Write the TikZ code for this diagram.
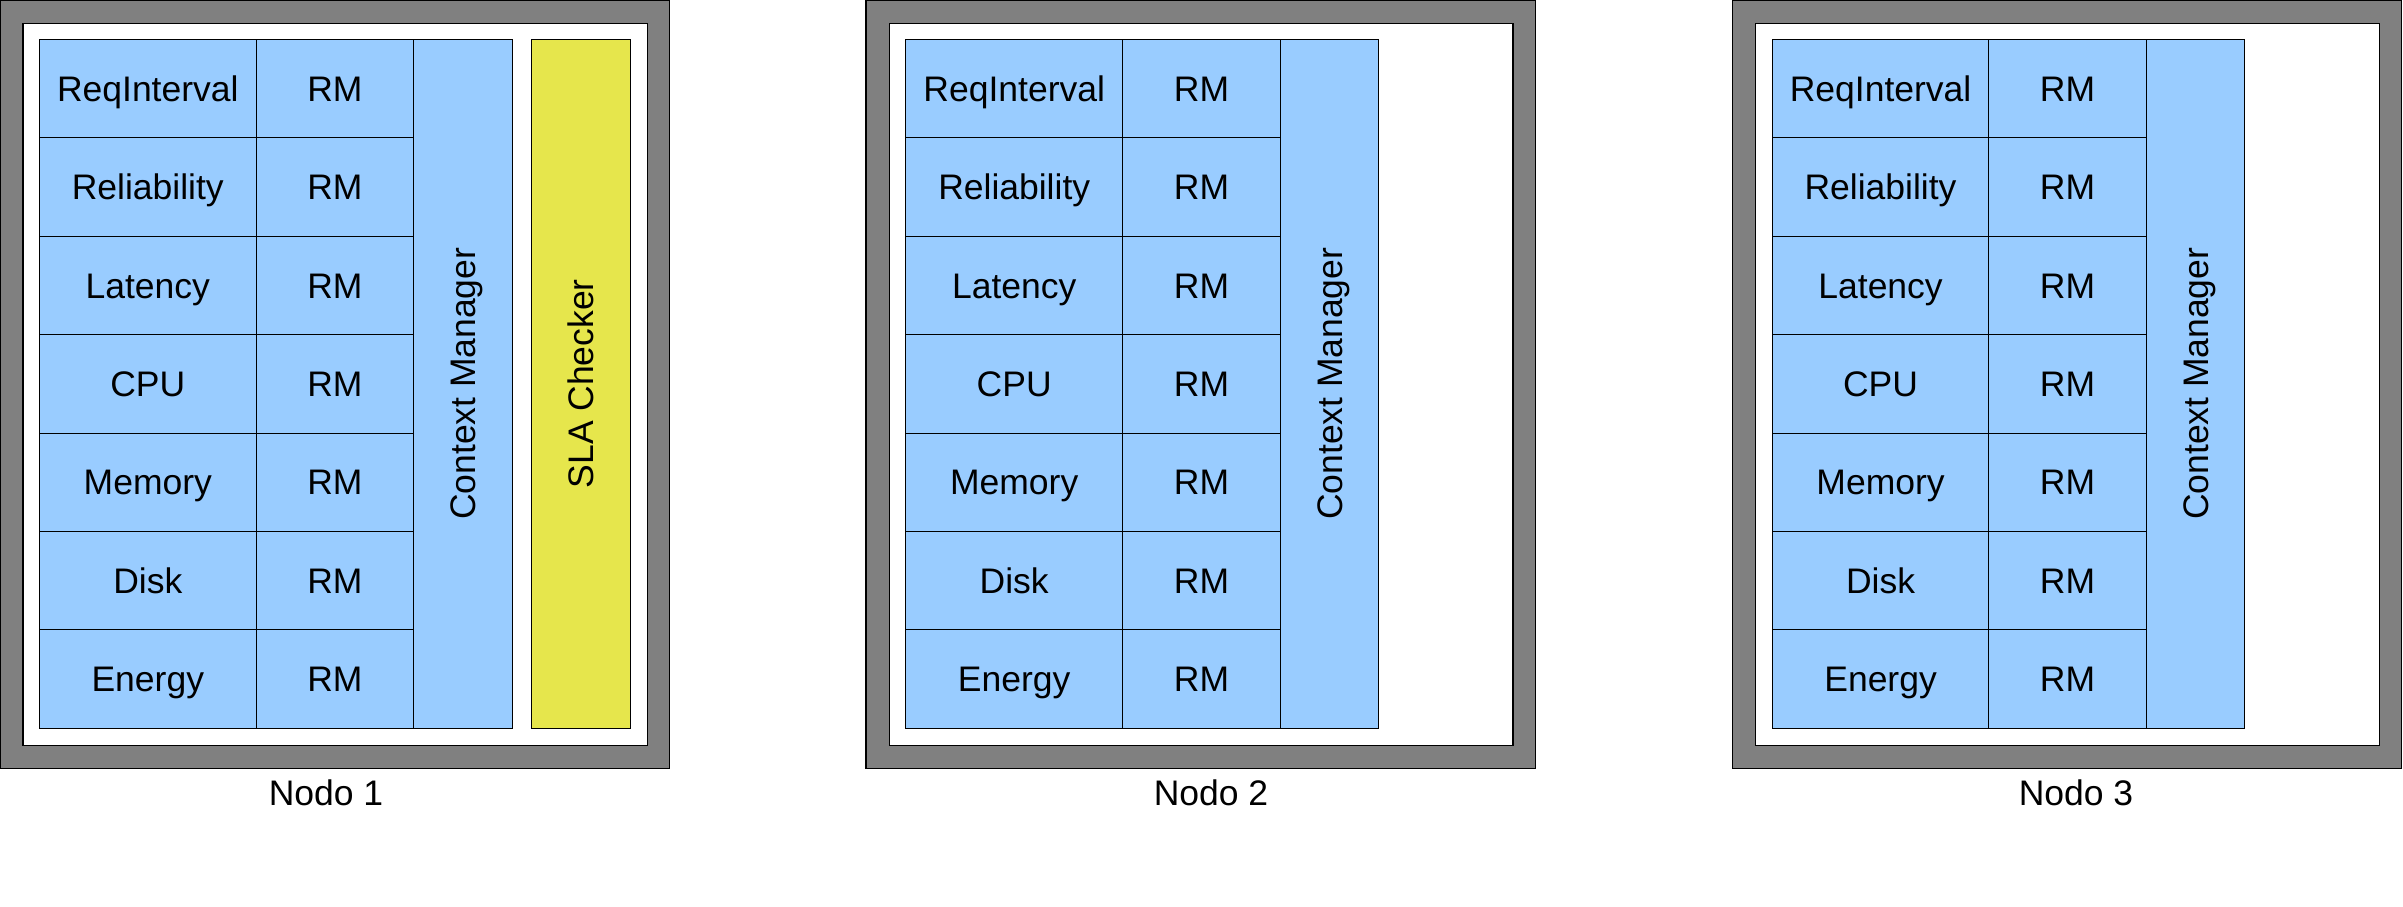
\documentclass[tikz,border=0pt]{standalone}
\usepackage{fontspec}
\setmainfont{Liberation Sans}
\definecolor{cellblue}{HTML}{99CCFF}
\definecolor{slayellow}{HTML}{E6E64C}
\definecolor{framegray}{HTML}{808080}
\tikzset{
  txt/.style={font=\fontsize{35.5}{40}\selectfont, inner sep=0pt, text height=25.4pt, text depth=0pt, anchor=center},
  cell/.style={txt, draw=black, line width=1pt, fill=cellblue},
  sla/.style={txt, draw=black, line width=1pt, fill=slayellow},
  frame/.style={draw=black, line width=1.5pt, fill=framegray},
  inner/.style={draw=black, line width=1.5pt, fill=white},
}
\begin{document}
\begin{tikzpicture}[x=1pt,y=-1pt]
\useasboundingbox (0,0) rectangle (2403,907);
\foreach \b/\ox/\oxr/\ix/\ixr/\ta/\tb/\tc/\td/\lx in {
  1/0.7/669.6/23.2/647.3/39.3/256.3/413.4/512.5/326,
  2/866.2/1535.4/889.4/1513.2/905.9/1122.5/1280.6/1378.3/1211,
  3/1732.6/2401.5/1755.6/2379.4/1772.7/1988.4/2146.6/2244.3/2076}{
  \draw[frame] (\ox,0.7) rectangle (\oxr,768.3);
  \draw[inner] (\ix,23.3) rectangle (\ixr,745.3);
  \pgfmathsetmacro{\wa}{\tb-\ta}
  \pgfmathsetmacro{\wb}{\tc-\tb}
  \pgfmathsetmacro{\wc}{\td-\tc}
  \pgfmathsetmacro{\xa}{(\ta+\tb)/2}
  \pgfmathsetmacro{\xb}{(\tb+\tc)/2}
  \pgfmathsetmacro{\xc}{(\tc+\td)/2}
  \foreach \nm [count=\r] in {ReqInterval,Reliability,Latency,CPU,Memory,Disk,Energy}{
    \pgfmathsetmacro{\yy}{39.3+(\r-0.5)*98.43}
    \node[cell, minimum width=\wa pt, minimum height=98.43pt] (n\b-m\r) at (\xa,\yy) {\nm};
    \node[cell, minimum width=\wb pt, minimum height=98.43pt] (n\b-rm\r) at (\xb,\yy) {RM};
  }
  \node[cell, rotate=90, minimum width=689pt, minimum height=\wc pt] (n\b-cm) at (\xc,383.8) {Context Manager};
  \node[txt] (nodo\b) at (\lx,793) {Nodo \b};
}
\node[sla, rotate=90, minimum width=689pt, minimum height=99.1pt] (sla) at (580.85,383.8) {SLA Checker};
\end{tikzpicture}
\end{document}
